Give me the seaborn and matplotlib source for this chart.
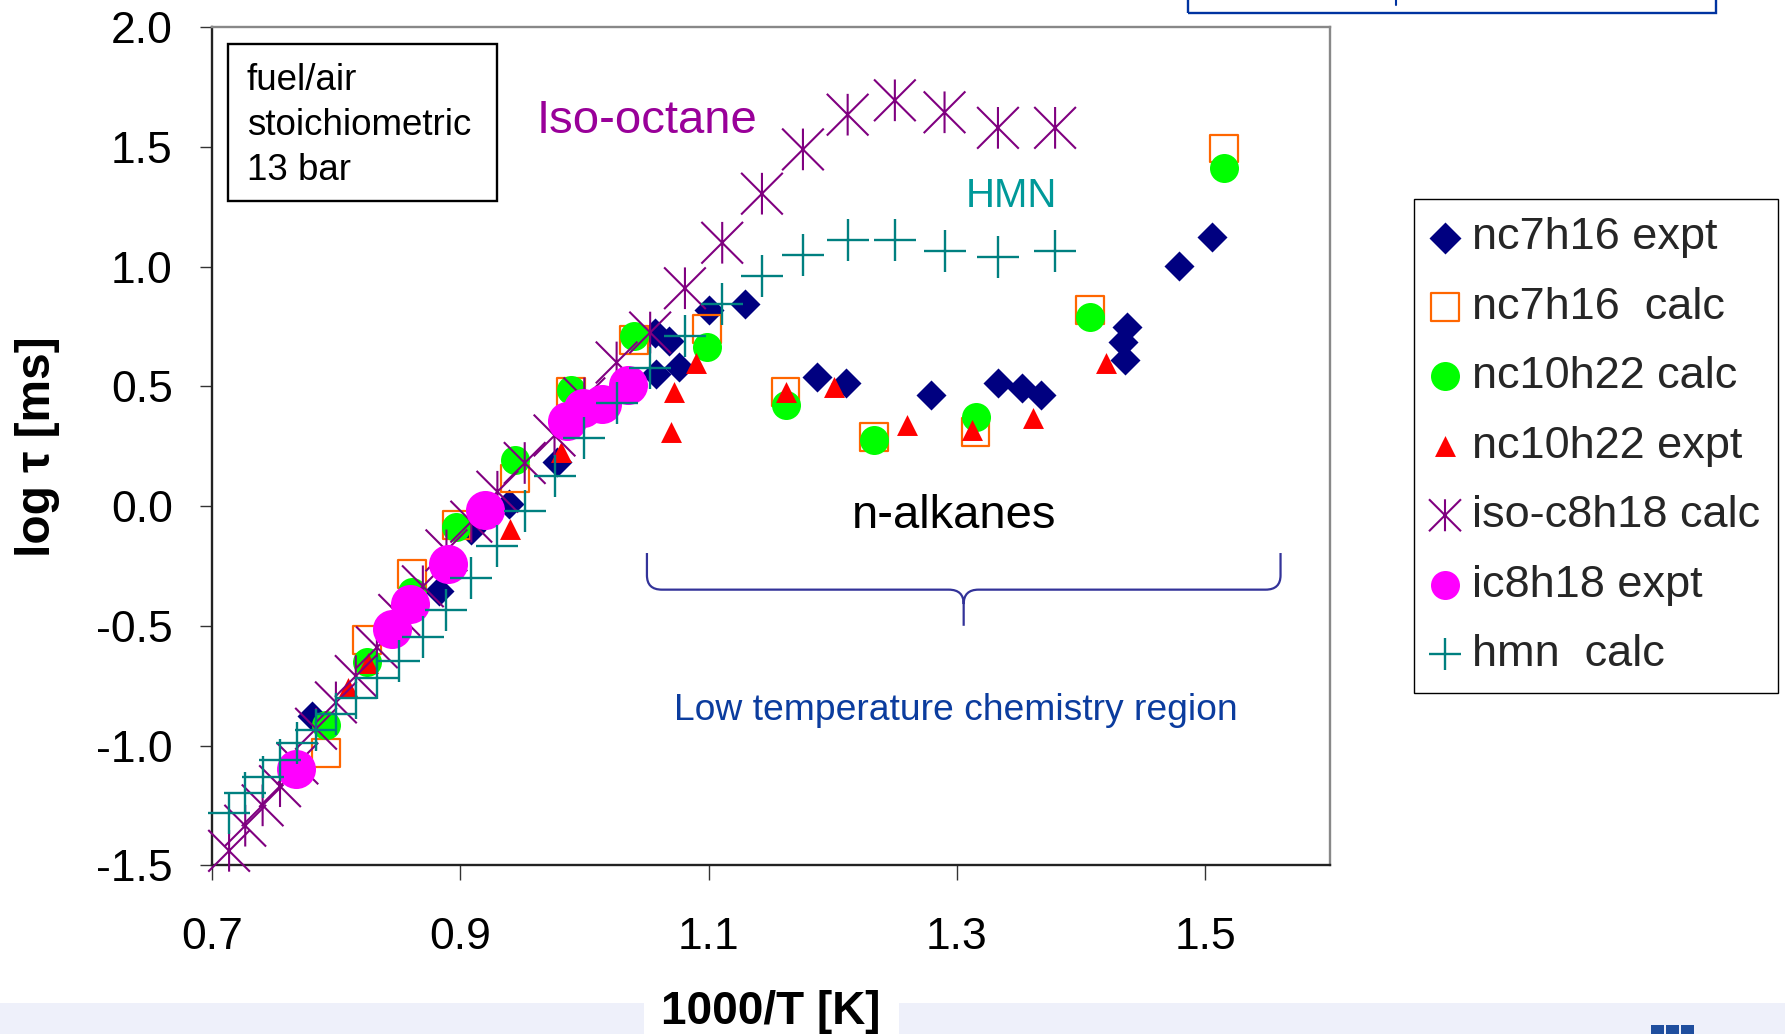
import matplotlib
matplotlib.use("Agg")
import matplotlib.pyplot as plt
import seaborn as sns
from matplotlib.path import Path
from matplotlib.patches import Rectangle, PathPatch
from matplotlib.lines import Line2D

# ---------------- data ----------------
# calculated series share the same 1000/T grid
calc_x = [0.714, 0.727, 0.741, 0.755, 0.769, 0.784, 0.800, 0.816, 0.833, 0.851,
          0.870, 0.889, 0.909, 0.930, 0.952, 0.976, 1.000, 1.026, 1.053, 1.081,
          1.111, 1.143, 1.176, 1.212, 1.250, 1.290, 1.333, 1.379]
iso_calc_y = [-1.44, -1.335, -1.25, -1.17, -1.075, -0.93, -0.82, -0.71, -0.59, -0.455,
              -0.335, -0.185, -0.065, 0.06, 0.18, 0.295, 0.45, 0.60, 0.725, 0.91,
              1.10, 1.305, 1.49, 1.635, 1.695, 1.645, 1.58, 1.58]
hmn_calc_y = [-1.28, -1.20, -1.13, -1.06, -0.99, -0.935, -0.87, -0.80, -0.72, -0.645,
              -0.545, -0.435, -0.30, -0.165, -0.02, 0.125, 0.285, 0.43, 0.575, 0.71,
              0.845, 0.96, 1.05, 1.11, 1.11, 1.065, 1.04, 1.065]

nc7_expt_x = [0.781, 0.883, 0.909, 0.939, 0.978, 1.057, 1.058, 1.068, 1.076, 1.100,
              1.129, 1.187, 1.211, 1.279, 1.333, 1.352, 1.368, 1.435, 1.434, 1.437,
              1.479, 1.505]
nc7_expt_y = [-0.875, -0.355, -0.10, 0.01, 0.185, 0.725, 0.55, 0.69, 0.58, 0.82,
              0.845, 0.54, 0.513, 0.464, 0.513, 0.492, 0.464, 0.61, 0.687, 0.749,
              1.004, 1.123]

nalk_calc_x = [0.792, 0.825, 0.861, 0.897, 0.944, 0.989, 1.040, 1.099, 1.162, 1.233,
               1.315, 1.407, 1.515]
nc7_calc_y = [-1.03, -0.56, -0.285, -0.08, 0.115, 0.478, 0.694, 0.739, 0.478, 0.29,
              0.311, 0.819, 1.494]
nc10_calc_y = [-0.914, -0.65, -0.36, -0.086, 0.193, 0.485, 0.711, 0.666, 0.422, 0.276,
               0.373, 0.791, 1.411]

nc10_expt_x = [0.810, 0.826, 0.940, 0.981, 1.070, 1.072, 1.090, 1.162, 1.201, 1.260,
               1.312, 1.361, 1.420]
nc10_expt_y = [-0.76, -0.655, -0.095, 0.227, 0.31, 0.478, 0.597, 0.475, 0.499, 0.339,
               0.318, 0.367, 0.597]

ic8_expt_x = [0.768, 0.845, 0.860, 0.890, 0.920, 0.986, 0.999, 1.014, 1.035]
ic8_expt_y = [-1.10, -0.515, -0.41, -0.243, -0.017, 0.355, 0.41, 0.425, 0.505]

series_labels = ["nc7h16 expt", "nc7h16  calc", "nc10h22 calc", "nc10h22 expt",
                 "iso-c8h18 calc", "ic8h18 expt", "hmn  calc"]
x_ticks = [0.7, 0.9, 1.1, 1.3, 1.5]
x_tick_labels = ["0.7", "0.9", "1.1", "1.3", "1.5"]
y_ticks = [-1.5, -1.0, -0.5, 0.0, 0.5, 1.0, 1.5, 2.0]
y_tick_labels = ["-1.5", "-1.0", "-0.5", "0.0", "0.5", "1.0", "1.5", "2.0"]

# ---------------- style ----------------
sns.set_theme(style="white")
plt.rcParams["font.family"] = ["Liberation Sans", "DejaVu Sans"]
plt.rcParams["axes.unicode_minus"] = False

W, H = 1785, 1034


def fx(px):
    return px / W


def fy(py):
    return 1 - py / H


fig = plt.figure(figsize=(W / 100, H / 100), dpi=100)
fig.patch.set_facecolor("white")
ax = fig.add_axes([fx(211.7), fy(865.2), (1329.6 - 211.7) / W, (865.2 - 27.3) / H])
ax.set_facecolor("white")

# asterisk marker: X plus vertical bar
star = Path([(-1, -1), (1, 1), (-1, 1), (1, -1), (0, -1), (0, 1)],
            [Path.MOVETO, Path.LINETO] * 3)

NAVY, ORANGE, GREEN, RED = "#000080", "#FF6600", "#00FF00", "#FF0000"
PURPLE, MAGENTA, TEAL = "#800080", "#FF00FF", "#008080"

sns.scatterplot(x=nc7_expt_x, y=nc7_expt_y, marker="D", s=234, color=NAVY,
                edgecolor=NAVY, linewidth=0, label=series_labels[0], ax=ax, zorder=3)
sns.scatterplot(x=nalk_calc_x, y=nc7_calc_y, marker="s", s=400, facecolor="none",
                edgecolor=ORANGE, linewidth=1.6, label=series_labels[1], ax=ax, zorder=3.1)
sns.scatterplot(x=nalk_calc_x, y=nc10_calc_y, marker="o", s=436, color=GREEN,
                edgecolor=GREEN, linewidth=0, label=series_labels[2], ax=ax, zorder=3.2)
sns.scatterplot(x=nc10_expt_x, y=nc10_expt_y, marker="^", s=227, color=RED,
                edgecolor=RED, linewidth=0, label=series_labels[3], ax=ax, zorder=3.3)
sns.scatterplot(x=calc_x, y=iso_calc_y, marker=star, s=900, facecolor="none",
                edgecolor=PURPLE, linewidth=1.5, label=series_labels[4], ax=ax, zorder=3.4)
sns.scatterplot(x=ic8_expt_x, y=ic8_expt_y, marker="o", s=790, color=MAGENTA,
                edgecolor=MAGENTA, linewidth=0, label=series_labels[5], ax=ax, zorder=3.5)
sns.scatterplot(x=calc_x, y=hmn_calc_y, marker="+", s=950, color=TEAL,
                linewidth=1.7, label=series_labels[6], ax=ax, zorder=3.6)

for coll in ax.collections:
    coll.set_clip_on(False)

# axes
ax.set_xlim(0.7, 1.6)
ax.set_ylim(-1.5, 2.0)
ax.set_xticks(x_ticks, x_tick_labels)
ax.set_yticks(y_ticks, y_tick_labels)
ax.tick_params(axis="x", bottom=True, direction="out", length=11, width=1.0,
               pad=26, labelsize=32, color="#333333", labelcolor="black")
ax.tick_params(axis="y", left=True, direction="out", length=8.5, width=1.0,
               pad=19.5, labelsize=32, color="#333333", labelcolor="black")
for side in ["left", "bottom"]:
    ax.spines[side].set_color("#222222")
    ax.spines[side].set_linewidth(1.7)
for side in ["top", "right"]:
    ax.spines[side].set_color("#888888")
    ax.spines[side].set_linewidth(1.7)
ax.grid(False)

ax.set_ylabel("log τ [ms]", fontsize=34.5, fontweight="bold", color="black")
ax.yaxis.set_label_coords(-0.136, 0.5)
ax.set_xlabel("1000/T [K]", fontsize=33, fontweight="bold", color="black")
ax.xaxis.set_label_coords(0.5, -(990 - 865.2) / 837.9)

# legend
leg = ax.legend(loc="upper left", bbox_to_anchor=(fx(1414.3), fy(199.3)),
                bbox_transform=fig.transFigure, fontsize=32.5, frameon=True,
                fancybox=False, edgecolor="black", framealpha=1, borderpad=0.4,
                labelspacing=0.63, handlelength=0.56, handletextpad=0.32,
                borderaxespad=0, scatterpoints=1)
leg.get_frame().set_linewidth(1.0)
legend_sizes = [265, 400, 436, 227, 530, 436, 530]
for hnd, sz in zip(leg.legend_handles, legend_sizes):
    hnd.set_sizes([sz])

# annotation box
fig.add_artist(Rectangle((fx(227.6), fy(200.7)), fx(497) - fx(227.6), (200.7 - 44.3) / H,
                         transform=fig.transFigure, fill=False, edgecolor="black",
                         linewidth=1.7, zorder=5))
for txt, base in zip(["fuel/air", "stoichiometric", "13 bar"], [90, 135, 180]):
    fig.text(fx(246.7), fy(base), txt, fontsize=26.5, color="black",
             ha="left", va="baseline", zorder=6)

fig.text(fx(536.8), fy(133.3), "Iso-octane", fontsize=34, color="#990099",
         ha="left", va="baseline", zorder=6)
fig.text(fx(966), fy(206.7), "HMN", fontsize=29, color="#009999",
         ha="left", va="baseline", zorder=6)
fig.text(fx(852), fy(528.3), "n-alkanes", fontsize=34, color="black",
         ha="left", va="baseline", zorder=6)
fig.text(fx(673.7), fy(720), "Low temperature chemistry region", fontsize=26.8,
         color="#0B3C9E", ha="left", va="baseline", zorder=6)

# curly brace (data coordinates)
xl, xr, xm = 1.0504, 1.5605, 1.3054
yt, yl, ytip = -0.196, -0.349, -0.50
rx, ry = 0.012, 0.06
brace = Path(
    [(xl, yt), (xl, yl + ry), (xl, yl), (xl + rx, yl), (xm - rx, yl), (xm, yl),
     (xm, yl - ry), (xm, ytip),
     (xm, yl - ry), (xm, yl), (xm + rx, yl), (xr - rx, yl), (xr, yl), (xr, yl + ry),
     (xr, yt)],
    [Path.MOVETO, Path.LINETO, Path.CURVE3, Path.CURVE3, Path.LINETO, Path.CURVE3,
     Path.CURVE3, Path.LINETO,
     Path.MOVETO, Path.CURVE3, Path.CURVE3, Path.LINETO, Path.CURVE3, Path.CURVE3,
     Path.LINETO])
ax.add_patch(PathPatch(brace, fill=False, edgecolor="#333399", linewidth=1.6,
                       clip_on=False, zorder=4))

# page decorations
fig.add_artist(Rectangle((0, 0), 1, (1034 - 1003) / H, transform=fig.transFigure,
                         facecolor="#EEF0FA", edgecolor="none", zorder=-2))
fig.add_artist(Rectangle((fx(644), 0), fx(899) - fx(644), (1034 - 1003) / H,
                         transform=fig.transFigure, facecolor="white",
                         edgecolor="none", zorder=-1))
for bx0 in [1651, 1666, 1681]:
    fig.add_artist(Rectangle((fx(bx0), 0), 13 / W, (1034 - 1025) / H,
                             transform=fig.transFigure, facecolor="#1F4E9E",
                             edgecolor="none", zorder=-1))
fig.add_artist(Rectangle((fx(1187.7), fy(13.3)), fx(1716) - fx(1187.7), 0.05,
                         transform=fig.transFigure, fill=False, edgecolor="#0033A0",
                         linewidth=1.7, zorder=5))
fig.add_artist(Line2D([fx(1395.8), fx(1395.8)], [fy(0), fy(4.5)],
                      transform=fig.transFigure, color="#0033A0", linewidth=1.5))

fig.savefig("out.png", dpi=100, facecolor="white")
